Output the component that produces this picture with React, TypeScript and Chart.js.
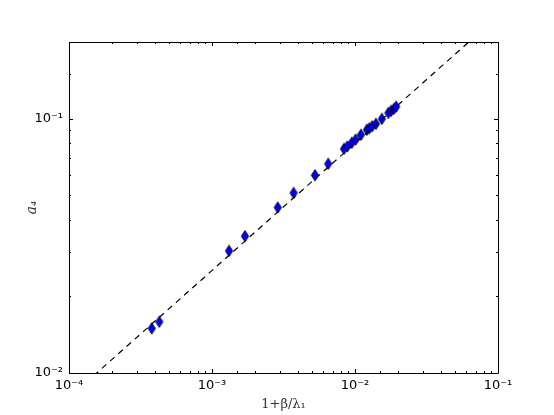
import React, { useEffect, useRef } from 'react';
import { Chart, registerables } from 'chart.js';

Chart.register(...registerables);

// Data (x = 1+β/λ1, y = a4)
const xValues = [
  3.79e-4, 4.28e-4, 1.315e-3, 1.7e-3, 2.88e-3, 3.72e-3, 5.25e-3, 6.5e-3,
  8.37e-3, 8.83e-3, 9.49e-3, 1.01e-2, 1.1e-2, 1.21e-2, 1.26e-2, 1.32e-2,
  1.4e-2, 1.54e-2, 1.71e-2, 1.79e-2, 1.87e-2, 1.94e-2,
];
const yValues = [
  0.01497, 0.01589, 0.0302, 0.0345, 0.0447, 0.051, 0.0599, 0.0664,
  0.076, 0.0777, 0.0803, 0.0827, 0.0863, 0.0903, 0.0916, 0.0933,
  0.0953, 0.0997, 0.1052, 0.1072, 0.1091, 0.1114,
];
// Dashed reference line endpoints
const fitX = [1e-4, 1e-1];
const fitY = [0.008, 0.253];

const xTickExponents = [-4, -3, -2, -1];
const xTickLabels = ['10⁻⁴', '10⁻³', '10⁻²', '10⁻¹'];
const yTickExponents = [-2, -1];
const yTickLabels = ['10⁻²', '10⁻¹'];

const xTitle = '1+β/λ₁';
const yTitle = 'a₄';

function labelFor(v: number, exps: number[], labels: string[]) {
  const e = Math.log10(v);
  for (let i = 0; i < exps.length; i++) {
    if (Math.abs(e - exps[i]) < 1e-6) return labels[i];
  }
  return '';
}

function makeDiamond() {
  const c = document.createElement('canvas');
  c.width = 10;
  c.height = 13;
  const ctx = c.getContext('2d')!;
  ctx.beginPath();
  ctx.moveTo(5, 0.8);
  ctx.lineTo(8.7, 6.5);
  ctx.lineTo(5, 12.2);
  ctx.lineTo(1.3, 6.5);
  ctx.closePath();
  ctx.fillStyle = '#0000ff';
  ctx.fill();
  ctx.strokeStyle = '#000000';
  ctx.lineWidth = 0.8;
  ctx.stroke();
  return c;
}

const frameTicks = {
  id: 'frameTicks',
  afterDraw(chart: any) {
    const { ctx, chartArea } = chart;
    const { left, right, top, bottom } = chartArea;
    ctx.save();
    ctx.strokeStyle = '#000';
    ctx.lineWidth = 1;
    const xs = chart.scales.x;
    const ys = chart.scales.y;
    ctx.beginPath();
    xs.ticks.forEach((t: any) => {
      const e = Math.log10(t.value);
      const major = Math.abs(e - Math.round(e)) < 1e-6;
      const len = major ? 4 : 2;
      const px = Math.round(xs.getPixelForValue(t.value)) + 0.5;
      if (px < left - 1 || px > right + 1) return;
      ctx.moveTo(px, bottom);
      ctx.lineTo(px, bottom - len);
      ctx.moveTo(px, top);
      ctx.lineTo(px, top + len);
    });
    ys.ticks.forEach((t: any) => {
      const e = Math.log10(t.value);
      const major = Math.abs(e - Math.round(e)) < 1e-6;
      const len = major ? 4 : 2;
      const py = Math.round(ys.getPixelForValue(t.value)) + 0.5;
      if (py < top - 1 || py > bottom + 1) return;
      ctx.moveTo(left, py);
      ctx.lineTo(left + len, py);
      ctx.moveTo(right, py);
      ctx.lineTo(right - len, py);
    });
    ctx.stroke();
    ctx.beginPath();
    ctx.rect(Math.round(left) + 0.5, Math.round(top) + 0.5, Math.round(right - left), Math.round(bottom - top));
    ctx.stroke();
    ctx.restore();
  },
};

export default function App() {
  const ref = useRef<HTMLCanvasElement | null>(null);

  useEffect(() => {
    document.body.style.margin = '0';
    const canvas = ref.current!;
    const diamond = makeDiamond();
    const chart = new Chart(canvas, {
      type: 'scatter',
      data: {
        datasets: [
          {
            label: 'fit',
            data: fitX.map((x, i) => ({ x, y: fitY[i] })),
            showLine: true,
            borderColor: '#000',
            borderWidth: 1.2,
            borderDash: [6, 5],
            pointRadius: 0,
            fill: false,
          },
          {
            label: 'a4',
            data: xValues.map((x, i) => ({ x, y: yValues[i] })),
            pointStyle: diamond as any,
            pointRadius: 5,
            showLine: false,
          },
        ],
      },
      options: {
        animation: false,
        responsive: false,
        devicePixelRatio: 1,
        layout: { padding: { left: 0, top: 42, right: 56, bottom: 0 } },
        plugins: {
          legend: { display: false },
          tooltip: { enabled: false },
        },
        events: [],
        scales: {
          x: {
            type: 'logarithmic',
            min: 1e-4,
            max: 1e-1,
            grid: { display: false, drawTicks: false },
            border: { display: false },
            ticks: {
              autoSkip: false,
              maxRotation: 0,
              padding: 5,
              color: '#000',
              font: { family: 'DejaVu Sans', size: 13 },
              callback: (v: any) => labelFor(Number(v), xTickExponents, xTickLabels),
            },
            title: {
              display: true,
              text: xTitle,
              color: '#333',
              font: { family: 'DejaVu Serif', size: 13 },
              padding: { top: 0, bottom: 3 },
            },
            afterFit: (s: any) => {
              s.height = 42;
            },
          },
          y: {
            type: 'logarithmic',
            min: 0.01,
            max: 0.2,
            grid: { display: false, drawTicks: false },
            border: { display: false },
            ticks: {
              autoSkip: false,
              padding: 6,
              color: '#000',
              font: { family: 'DejaVu Sans', size: 13 },
              callback: (v: any) => labelFor(Number(v), yTickExponents, yTickLabels),
            },
            title: {
              display: true,
              text: yTitle,
              color: '#333',
              font: { family: 'DejaVu Serif', size: 14, style: 'italic' },
              padding: { top: 24, bottom: 0 },
            },
            afterFit: (s: any) => {
              s.width = 69;
            },
          },
        },
      },
      plugins: [frameTicks],
    });
    return () => chart.destroy();
  }, []);

  return (
    <div style={{ position: 'absolute', left: 0, top: 0, width: 554, height: 415, background: '#fff' }}>
      <canvas ref={ref} width={554} height={415} style={{ display: 'block' }} />
    </div>
  );
}
